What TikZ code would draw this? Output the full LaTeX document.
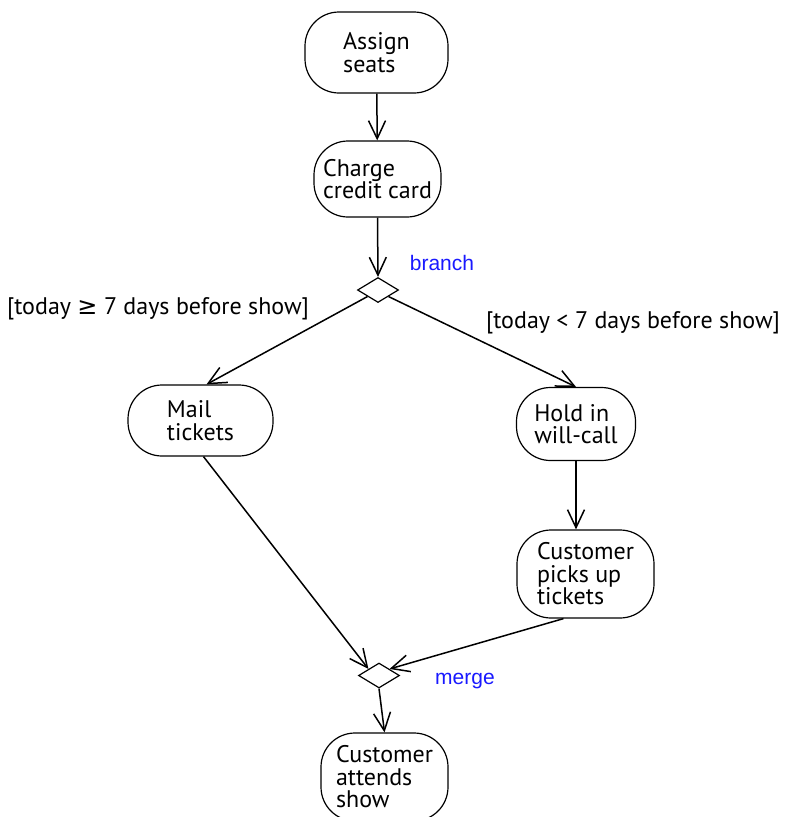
\documentclass[tikz,border=0pt]{standalone}
\usepackage{fontspec}
\setmainfont{PT Sans}
\newfontfamily\symfont{DejaVu Sans}
\newfontfamily\notefont{Liberation Sans}
\usetikzlibrary{arrows.meta,shapes.geometric}

\tikzset{
  action/.style={draw, rectangle, rounded corners=34pt,
    line width=1.2pt, inner sep=0pt, align=left,
    font=\fontsize{24}{22.5}\selectfont},
  decision/.style={draw, diamond, minimum width=41pt, minimum height=25pt,
    inner sep=0pt, line width=1.2pt},
  flow/.style={line width=1.5pt,
    -{Straight Barb[length=18pt,width=17pt,line width=1.5pt]}},
  guard/.style={font=\fontsize{24}{26}\selectfont},
  note/.style={text=blue!90, font=\notefont\fontsize{21}{26}\selectfont},
}

\begin{document}
\begin{tikzpicture}[x=1pt,y=-1pt]
  \useasboundingbox (0,0) rectangle (788,817);
  \clip (0,0) rectangle (788,817);

  % activities
  \node[action, minimum width=143pt, minimum height=81pt] (assign) at (376.5,52.5) {Assign\\seats};
  \node[action, minimum width=127pt, minimum height=76pt] (charge) at (377.5,179) {Charge\\credit card};
  \node[action, minimum width=145pt, minimum height=71pt] (mail) at (200.5,420.5) {Mail\\tickets};
  \node[action, minimum width=119pt, minimum height=73pt] (hold) at (576,424) {Hold in\\will-call};
  \node[action, minimum width=137pt, minimum height=88pt] (pickup) at (585.5,574) {Customer\\picks up\\tickets};
  \node[action, minimum width=127pt, minimum height=88pt] (attend) at (384.5,777) {Customer\\attends\\show};

  % branch and merge
  \node[decision] (branch) at (378,290) {};
  \node[decision] (merge) at (379,675.5) {};
  \node[note] (branchlbl) at (442,263) {branch};
  \node[note] (mergelbl) at (465,681) {merge};

  % guards
  \node[guard] (early) at (158,309) {[today {\symfont ≥} 7 days before show]};
  \node[guard] (late) at (633,323) {[today < 7 days before show]};

  % flows
  \draw[flow] (assign) -- (charge);
  \draw[flow] (charge.south) -- (branch.north);
  \draw[flow] (branch.south west) -- ([xshift=6pt]mail.north);
  \draw[flow] (branch.south east) -- (hold.north);
  \coordinate (pickupin) at (pickup.north -| hold.south);
  \draw[flow] (hold.south) -- (pickupin);
  \draw[flow] ([xshift=3pt]mail.south) -- (merge.north west);
  \draw[flow] ([xshift=-22pt]pickup.south) -- (merge.north east);
  \draw[flow] (merge.south) -- (attend.north);
\end{tikzpicture}
\end{document}
